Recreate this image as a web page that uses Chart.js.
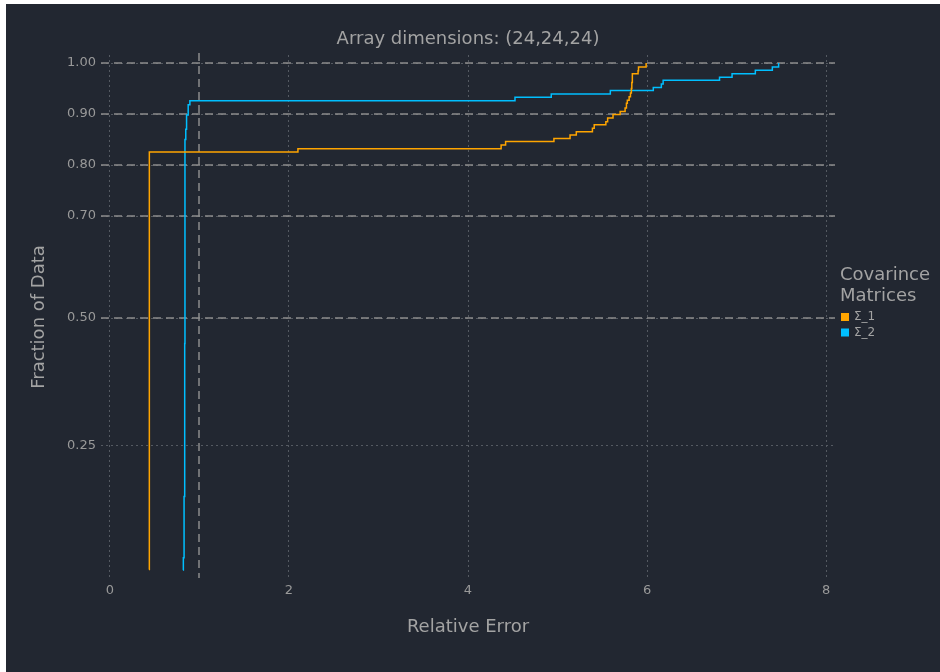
<!DOCTYPE html>
<html>
<head>
<meta charset="utf-8">
<title>Array dimensions: (24,24,24)</title>
<script src="https://cdn.jsdelivr.net/npm/chart.js"></script>
<style>
    body { margin: 0; background: #ffffff; }
    #contenedor { position: absolute; left: 6px; top: 4px; width: 934px; height: 668px; background: #222731; }
</style>
</head>
<body>
<div id="contenedor"><canvas id="grafico-ecdf" width="934" height="668"></canvas></div>
<script>
// Datos (ECDF del error relativo)
const erroresSigma1 = [0.435, 0.44, 2.10, 4.37, 4.42, 4.96, 5.14, 5.21, 5.39, 5.41, 5.54, 5.56, 5.62, 5.70, 5.755, 5.77, 5.78, 5.80, 5.815, 5.825, 5.83, 5.836, 5.90, 5.905, 5.99];
const fraccionSigma1 = [0.007, 0.8255, 0.832, 0.839, 0.846, 0.852, 0.859, 0.865, 0.872, 0.879, 0.885, 0.892, 0.899, 0.905, 0.912, 0.921, 0.927, 0.934, 0.941, 0.95, 0.962, 0.979, 0.985, 0.992, 1.0];

const erroresSigma2 = [0.815, 0.82, 0.828, 0.835, 0.838, 0.847, 0.856, 0.874, 0.893, 4.525, 4.93, 5.59, 6.07, 6.16, 6.18, 6.81, 6.95, 7.21, 7.40, 7.47];
const fraccionSigma2 = [0.006, 0.03, 0.15, 0.45, 0.85, 0.87, 0.898, 0.918, 0.926, 0.933, 0.939, 0.946, 0.952, 0.959, 0.966, 0.972, 0.979, 0.986, 0.992, 1.0];

const etiquetasSeries = ['Σ_1', 'Σ_2'];
const coloresSeries = ['#FFA500', '#00BFFF'];

const ticksX = [0, 2, 4, 6, 8];
const ticksY = [0.25, 0.50, 0.70, 0.80, 0.90, 1.00];

// Líneas de referencia discontinuas
const lineasHorizontales = [0.5, 0.7, 0.8, 0.9, 1.0];
const lineasVerticales = [1];

const FUENTE = '"DejaVu Sans", sans-serif';

function armarPuntos(xs, ys) {
    return xs.map((x, i) => ({ x: x, y: ys[i] }));
}

// Dibuja las líneas de referencia antes de las series
const pluginReferencias = {
    id: 'referencias',
    beforeDatasetsDraw(chart) {
        const { ctx, chartArea, scales } = chart;
        ctx.save();
        ctx.strokeStyle = '#8c8c8c';
        ctx.lineWidth = 1.5;
        ctx.setLineDash([8, 5]);
        lineasHorizontales.forEach(v => {
            const y = Math.round(scales.y.getPixelForValue(v));
            ctx.beginPath();
            ctx.moveTo(chartArea.left, y);
            ctx.lineTo(chartArea.right, y);
            ctx.stroke();
        });
        lineasVerticales.forEach(v => {
            const x = Math.round(scales.x.getPixelForValue(v));
            ctx.beginPath();
            ctx.moveTo(x, chartArea.top - 2);
            ctx.lineTo(x, chartArea.bottom);
            ctx.stroke();
        });
        ctx.restore();
    }
};

// Título, títulos de ejes y leyenda
const pluginTextos = {
    id: 'textos',
    afterDraw(chart) {
        const { ctx, chartArea } = chart;
        const centroX = (chartArea.left + chartArea.right) / 2;
        ctx.save();
        ctx.fillStyle = '#a3a3a3';
        ctx.textBaseline = 'middle';
        ctx.textAlign = 'center';
        ctx.font = '18px ' + FUENTE;
        ctx.fillText('Array dimensions: (24,24,24)', centroX, 35);
        ctx.fillText('Relative Error', centroX, 623);

        ctx.save();
        ctx.translate(33, 313);
        ctx.rotate(-Math.PI / 2);
        ctx.fillText('Fraction of Data', 0, 0);
        ctx.restore();

        const izq = chartArea.right + 5;
        ctx.textAlign = 'left';
        ctx.font = '18px ' + FUENTE;
        ctx.fillText('Covarince', izq, 271);
        ctx.fillText('Matrices', izq, 292);

        ctx.font = '12px ' + FUENTE;
        etiquetasSeries.forEach((et, i) => {
            const yc = 313 + i * 15.5;
            ctx.fillStyle = coloresSeries[i];
            ctx.fillRect(izq + 1, yc - 4, 8, 8);
            ctx.fillStyle = '#a3a3a3';
            ctx.fillText(et, izq + 14, yc);
        });
        ctx.restore();
    }
};

function crearGrafico() {
    const canvas = document.getElementById('grafico-ecdf');
    if (!canvas) {
        console.error('No se encontró el canvas');
        return;
    }

    const estiloSerie = {
        stepped: 'before',
        borderWidth: 1.5,
        pointRadius: 0,
        fill: false
    };

    new Chart(canvas.getContext('2d'), {
        type: 'line',
        data: {
            datasets: [
                Object.assign({
                    label: etiquetasSeries[0],
                    data: armarPuntos(erroresSigma1, fraccionSigma1),
                    borderColor: coloresSeries[0]
                }, estiloSerie),
                Object.assign({
                    label: etiquetasSeries[1],
                    data: armarPuntos(erroresSigma2, fraccionSigma2),
                    borderColor: coloresSeries[1]
                }, estiloSerie)
            ]
        },
        options: {
            responsive: false,
            animation: false,
            layout: { padding: { top: 51, right: 105, left: 0, bottom: 0 } },
            plugins: {
                legend: { display: false },
                title: { display: false },
                tooltip: { enabled: false }
            },
            scales: {
                x: {
                    type: 'linear',
                    min: -0.1,
                    max: 8.1,
                    afterBuildTicks: eje => { eje.ticks = ticksX.map(v => ({ value: v })); },
                    afterFit: eje => { eje.height = 94; },
                    grid: { color: '#555a62', lineWidth: 1, drawTicks: false },
                    border: { display: false, dash: [2, 3] },
                    ticks: {
                        color: '#999999',
                        font: { family: FUENTE, size: 13 },
                        padding: 5,
                        maxRotation: 0,
                        callback: v => String(v)
                    }
                },
                y: {
                    type: 'linear',
                    min: -0.0098,
                    max: 1.0157,
                    afterBuildTicks: eje => { eje.ticks = ticksY.map(v => ({ value: v })); },
                    afterFit: eje => { eje.width = 95; },
                    grid: { color: '#555a62', lineWidth: 1, drawTicks: false },
                    border: { display: false, dash: [2, 3] },
                    ticks: {
                        color: '#999999',
                        font: { family: FUENTE, size: 13 },
                        padding: 5,
                        callback: v => Number(v).toFixed(2)
                    }
                }
            }
        },
        plugins: [pluginReferencias, pluginTextos]
    });
}

if (document.readyState === 'loading') {
    document.addEventListener('DOMContentLoaded', crearGrafico);
} else {
    crearGrafico();
}
</script>
</body>
</html>
